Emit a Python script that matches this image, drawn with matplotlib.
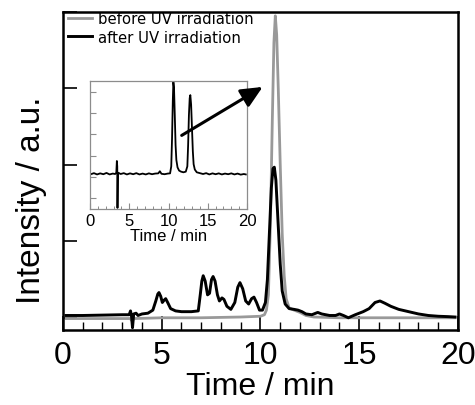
import matplotlib
matplotlib.use("Agg")
import matplotlib.pyplot as plt
from matplotlib.ticker import MultipleLocator

plt.rcParams["font.family"] = ["Liberation Sans", "DejaVu Sans"]

# --- data ----------------------------------------------------------------
# main chromatogram, after UV irradiation (black)
after_t = [0.15, 1.0, 2.0, 3.0, 3.35, 3.42, 3.47, 3.52, 3.58, 3.7, 3.8, 4.0, 4.3,
           4.55, 4.7, 4.8, 4.86, 4.95, 5.03, 5.12, 5.2, 5.3, 5.45, 5.7, 6.0, 6.5,
           6.85, 6.95, 7.03, 7.1, 7.2, 7.32, 7.42, 7.52, 7.6, 7.7, 7.82, 7.92,
           8.05, 8.15, 8.3, 8.5, 8.7, 8.85, 8.96, 9.1, 9.25, 9.4, 9.55, 9.67,
           9.8, 9.95, 10.1, 10.25, 10.35, 10.45, 10.55, 10.63, 10.7, 10.78,
           10.88, 11.0, 11.1, 11.25, 11.45, 11.7, 11.9, 12.1, 12.3, 12.6, 12.9,
           13.1, 13.5, 13.8, 14.0, 14.2, 14.45, 14.8, 15.2, 15.5, 15.8, 16.05,
           16.3, 16.6, 17.0, 17.5, 18.0, 18.5, 19.0, 19.5, 19.85]
after_y = [0.03, 0.03, 0.035, 0.04, 0.04, 0.09, 0.02, -0.13, 0.05, 0.06, 0.03,
           0.05, 0.06, 0.10, 0.22, 0.31, 0.33, 0.28, 0.20, 0.23, 0.25, 0.20,
           0.12, 0.09, 0.08, 0.08, 0.09, 0.30, 0.48, 0.55, 0.48, 0.30, 0.32,
           0.50, 0.54, 0.48, 0.30, 0.22, 0.26, 0.24, 0.15, 0.11, 0.20, 0.40,
           0.46, 0.38, 0.22, 0.18, 0.25, 0.27, 0.20, 0.10, 0.10, 0.20, 0.50,
           1.10, 1.70, 1.95, 1.97, 1.80, 1.30, 0.70, 0.35, 0.18, 0.12, 0.11,
           0.10, 0.08, 0.05, 0.04, 0.07, 0.05, 0.03, 0.03, 0.05, 0.03, 0.00,
           0.04, 0.08, 0.12, 0.20, 0.22, 0.19, 0.15, 0.11, 0.08, 0.05, 0.03,
           0.02, 0.015, 0.01]

# main chromatogram, before UV irradiation (grey)
before_t = [0.15, 2.0, 3.4, 3.5, 3.6, 5.0, 7.0, 9.0, 10.0, 10.2, 10.3, 10.4,
            10.5, 10.6, 10.68, 10.75, 10.82, 10.9, 11.0, 11.1, 11.2, 11.3,
            11.45, 11.7, 12.0, 12.3, 12.7, 14.0, 16.0, 18.0, 19.85]
before_y = [-0.01, -0.01, -0.01, -0.04, -0.01, 0.0, 0.0, 0.01, 0.02, 0.04,
            0.10, 0.30, 1.20, 2.60, 3.60, 3.95, 3.70, 3.00, 2.00, 1.10, 0.55,
            0.25, 0.13, 0.10, 0.07, 0.03, 0.01, 0.0, 0.0, 0.0, 0.0]

# inset chromatogram
inset_t = [0.1, 0.5, 0.9, 1.3, 1.7, 2.1, 2.5, 2.9, 3.2, 3.35, 3.42, 3.47, 3.5,
           3.55, 3.6, 3.9, 4.3, 4.7, 5.1, 5.5, 5.9, 6.3, 6.7, 7.1, 7.5, 7.9,
           8.3, 8.7, 8.9, 9.1, 9.5, 9.9, 10.2, 10.35, 10.45, 10.55, 10.62, 10.7,
           10.8, 10.9, 11.0, 11.15, 11.35, 11.6, 11.9, 12.2, 12.4, 12.5, 12.6,
           12.7, 12.78, 12.88, 13.0, 13.1, 13.2, 13.35, 13.6, 14.0, 14.4, 14.8,
           15.2, 15.6, 16.0, 16.4, 16.8, 17.2, 17.6, 18.0, 18.4, 18.8, 19.2,
           19.6, 19.85]
inset_y = [1.13, 1.18, 1.12, 1.17, 1.13, 1.19, 1.12, 1.16, 1.14, 1.20, 1.75,
           1.50, -0.45, 1.00, 1.20, 1.14, 1.18, 1.12, 1.17, 1.13, 1.18, 1.12,
           1.16, 1.12, 1.17, 1.13, 1.16, 1.17, 1.27, 1.15, 1.13, 1.16, 1.17,
           1.50, 2.80, 4.60, 5.45, 5.20, 3.90, 2.50, 1.80, 1.45, 1.30, 1.25,
           1.22, 1.25, 1.50, 2.50, 3.90, 4.70, 4.84, 4.40, 3.20, 2.20, 1.60,
           1.35, 1.22, 1.18, 1.14, 1.18, 1.12, 1.17, 1.13, 1.17, 1.12, 1.16,
           1.13, 1.17, 1.12, 1.16, 1.11, 1.14, 1.12]

labels = ["before UV irradiation", "after UV irradiation"]

GREY = "#999999"
INSET_FRAME = "#8c8c8c"

# --- figure ---------------------------------------------------------------
fig = plt.figure(figsize=(4.75, 4.06), dpi=100)
ax = fig.add_axes([0.1326, 0.1847, 0.8316, 0.7833])

ax.plot(before_t, before_y, color=GREY, lw=2.0, label=labels[0], zorder=2)
ax.plot(after_t, after_y, color="black", lw=2.1, label=labels[1], zorder=3)

ax.set_xlim(0, 20)
ax.set_ylim(-0.16, 4.0)
ax.xaxis.set_major_locator(MultipleLocator(5))
ax.xaxis.set_minor_locator(MultipleLocator(1))
ax.set_yticks([0, 1, 2, 3, 4])
ax.set_yticklabels([])
ax.tick_params(axis="both", which="major", direction="in", length=10,
               width=1.2, labelsize=23, pad=7)
ax.tick_params(axis="x", which="minor", direction="in", length=6, width=1.0)
for s in ax.spines.values():
    s.set_linewidth(1.8)
ax.set_xlabel("Time / min", fontsize=23, labelpad=1)
ax.set_ylabel("Intensity / a.u.", fontsize=24)
ax.yaxis.set_label_coords(-0.04, 0.41)

leg = ax.legend(loc="upper left", bbox_to_anchor=(0.012, 1.003), frameon=False,
                borderpad=0, borderaxespad=0, handlelength=1.6,
                handletextpad=0.45, labelspacing=0.24,
                prop={"family": "DejaVu Sans", "size": 10.7})

# inset
axin = fig.add_axes([0.1895, 0.4828, 0.3305, 0.3152])
axin.plot(inset_t, inset_y, color="black", lw=1.3)
axin.set_xlim(0, 20)
axin.set_ylim(-0.5, 5.5)
axin.xaxis.set_major_locator(MultipleLocator(5))
axin.xaxis.set_minor_locator(MultipleLocator(1))
axin.set_yticks([0, 1, 2, 3, 4, 5])
axin.set_yticklabels([])
axin.tick_params(axis="both", which="major", direction="in", length=4,
                 width=0.8, color=INSET_FRAME, labelsize=12, pad=3)
axin.tick_params(axis="x", which="minor", direction="in", length=2.5,
                 width=0.7, color=INSET_FRAME)
for s in axin.spines.values():
    s.set_color(INSET_FRAME)
    s.set_linewidth(0.9)
axin.set_xlabel("Time / min", fontsize=12, labelpad=0)

# arrow from the inset up to the big peak
axin.annotate("", xy=(10.11, 3.02), xycoords=ax.transData,
              xytext=(11.68, 2.95), textcoords="data",
              annotation_clip=False,
              arrowprops=dict(arrowstyle="-|>,head_length=0.65,head_width=0.3",
                              mutation_scale=20, lw=2.2, color="black",
                              shrinkA=0, shrinkB=0))

fig.savefig("out.png", dpi=100)
